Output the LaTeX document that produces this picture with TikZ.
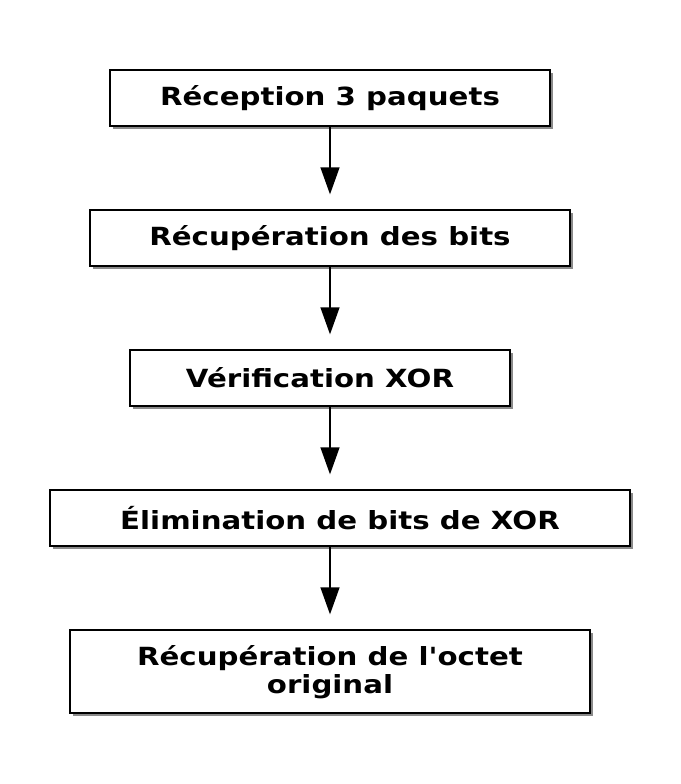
\documentclass[tikz,border=0pt]{standalone}
\usepackage{fontspec}
\setmainfont{DejaVu Sans}
\usetikzlibrary{arrows.meta,shadows}

\newcommand\etire[1]{\scalebox{1.17}[1]{#1}}

\begin{document}
\begin{tikzpicture}[x=1pt, y=-1pt,
  etape/.style={draw, line width=1.3pt, fill=white, align=center, inner sep=0pt,
    font=\fontsize{25}{28}\selectfont\bfseries,
    drop shadow={shadow xshift=3pt, shadow yshift=-3pt, fill=black!70, opacity=0.65}},
  fleche/.style={-{Triangle[length=27pt, width=19pt]}, line width=1.3pt, shorten >=15pt}]
  \useasboundingbox (0,0) rectangle (680,784);
  \node[etape, minimum width=440pt, minimum height=56pt] (recep) at (330,98) {\etire{Réception 3 paquets}};
  \node[etape, minimum width=480pt, minimum height=56pt] (bits) at (330,238) {\etire{Récupération des bits}};
  \node[etape, minimum width=380pt, minimum height=56pt] (verif) at (320,378) {\etire{Vérification XOR}};
  \node[etape, minimum width=580pt, minimum height=56pt] (elim) at (340,518) {\etire{Élimination de bits de XOR}};
  \node[etape, minimum width=520pt, minimum height=83pt, text depth=4pt] (octet) at (330,671.5) {\etire{Récupération de l\textquotesingle octet}\\\etire{original}};
  \draw[fleche] (recep.south) -- (bits.north);
  \draw[fleche] (bits.south) -- (bits.south |- verif.north);
  \draw[fleche] (bits.south |- verif.south) -- (bits.south |- elim.north);
  \draw[fleche] (octet.north |- elim.south) -- (octet.north);
\end{tikzpicture}
\end{document}
